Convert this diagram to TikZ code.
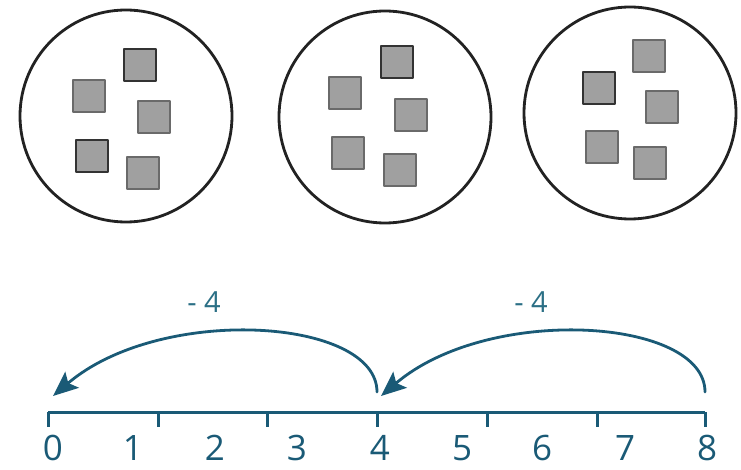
\documentclass[tikz,border=0pt]{standalone}
\usepackage{fontspec}
\setmainfont{Open Sans}
\usetikzlibrary{arrows.meta}
\definecolor{ink}{HTML}{1A5A76}
\definecolor{lbl}{HTML}{2B6F85}
\definecolor{chipfill}{HTML}{A0A0A0}
\definecolor{chipedge}{HTML}{6A6A6A}
\definecolor{chipdark}{HTML}{333333}
\definecolor{rim}{HTML}{222222}

\begin{document}
\begin{tikzpicture}[
  x=1pt,
  y=-1pt,
  line cap=round,
  line join=round,
  dish/.style={
    circle,
    draw=rim,
    line width=2.8pt,
    inner sep=0pt,
    minimum size=212pt,
  },
  chip/.style={
    rectangle,
    draw=chipedge,
    fill=chipfill,
    line width=1.4pt,
    inner sep=0pt,
    minimum size=32pt,
  },
  darkchip/.style={
    chip,
    draw=chipdark,
    line width=2pt,
  },
  axis/.style={
    ink,
    line width=3pt,
    line cap=butt,
  },
  jump/.style={
    -{Stealth[length=25pt,width=21pt,inset=5pt]},
    ink,
    line width=2.8pt,
  },
  num/.style={
    text=ink,
    font=\fontsize{35}{40}\selectfont,
    inner sep=0pt,
  },
  step lbl/.style={
    text=lbl,
    font=\fontsize{29}{32}\selectfont,
    inner sep=0pt,
  },
]
\useasboundingbox (0,0) rectangle (741,470);

% --- dishes ---
\node[dish] (d1) at (126,116) {};
\node[dish] (d2) at (385,117) {};
\node[dish] (d3) at (630,113) {};

% --- chips ---
\node[darkchip] (a1) at (140,65) {};
\node[chip]     (b1) at (89,96) {};
\node[chip]     (c1) at (154,117) {};
\node[darkchip] (e1) at (92,156) {};
\node[chip]     (f1) at (143,173) {};

\node[darkchip] (a2) at (397,62) {};
\node[chip]     (b2) at (345,93) {};
\node[chip]     (c2) at (411,115) {};
\node[chip]     (e2) at (348,153) {};
\node[chip]     (f2) at (400,170) {};

\node[chip]     (a3) at (649,56) {};
\node[darkchip] (b3) at (599,88) {};
\node[chip]     (c3) at (662,107) {};
\node[chip]     (e3) at (602,147) {};
\node[chip]     (f3) at (650,163) {};

% --- number line ---
\coordinate (p0) at (48,412);
\coordinate (p8) at (705,412);
\draw[axis] (p0) -- (p8);
\foreach \x in {48,158,267,377,487,597,705}
  \draw[axis] (\x,412) -- ++(0,15);

\foreach \x/\n in {53/0,133/1,215/2,297/3,380/4,462/5,542/6,625/7,707/8}
  \node[num] (num\n) at (\x,448) {\n};

% --- jumps ---
\coordinate (from8) at (705,392);
\coordinate (to4) at (381,396);
\coordinate (from4) at (377,392);
\coordinate (to0) at (53,396);

\draw[jump] (from4) .. controls +(0,-74) and +(108,-92) .. (to0);
\draw[jump] (from8) .. controls +(0,-74) and +(108,-92) .. (to4);

\node[step lbl] (m1) at (204,302) {- 4};
\node[step lbl] (m2) at (531,302) {- 4};

\end{tikzpicture}
\end{document}
